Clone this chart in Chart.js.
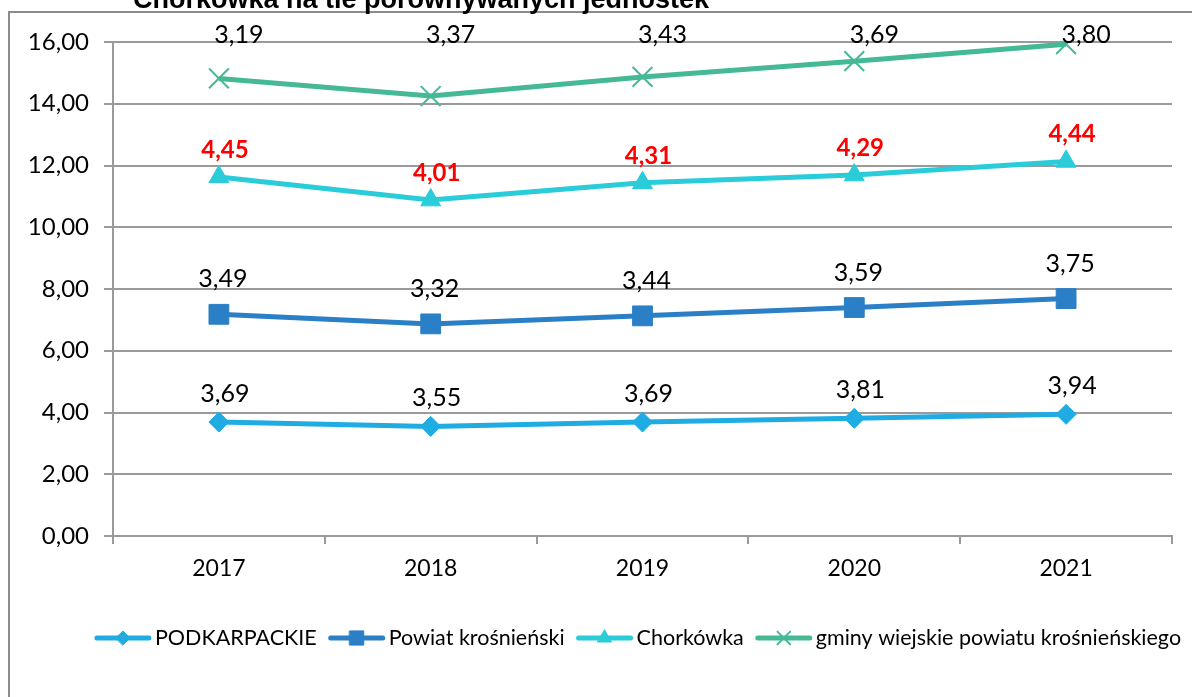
<!DOCTYPE html>
<html>
<head>
<meta charset="utf-8">
<script src="https://cdn.jsdelivr.net/npm/chart.js@4.4.0/dist/chart.umd.min.js"></script>
<style>
  html, body { margin: 0; padding: 0; background: #fff; }
  #wrap { width: 1192px; height: 697px; position: relative; }
</style>
</head>
<body>
<div id="wrap"><canvas id="lineChart"></canvas></div>
<script>
// values (each series is stacked on the previous one)
var years = ["2017", "2018", "2019", "2020", "2021"];
var podkarpackie = [3.69, 3.55, 3.69, 3.81, 3.94];
var powiat = [3.49, 3.32, 3.44, 3.59, 3.75];
var chorkowka = [4.45, 4.01, 4.31, 4.29, 4.44];
var gminy = [3.19, 3.37, 3.43, 3.69, 3.80];
var seriesNames = ["PODKARPACKIE", "Powiat krośnieński", "Chorkówka", "gminy wiejskie powiatu krośnieńskiego"];
var titleText = "Chorkówka na tle porównywanych jednostek";

var FONT = "Lato";
var GRID = "#9a9a9a";

function fmt(v) {
  return Number(v).toFixed(2).replace(".", ",");
}

// frame + cut title
var framePlugin = {
  id: "frame",
  beforeDraw: function (chart) {
    var ctx = chart.ctx;
    ctx.save();
    ctx.fillStyle = "#fff";
    ctx.fillRect(0, 0, chart.width, chart.height);
    ctx.strokeStyle = "#8c8c8c";
    ctx.lineWidth = 2;
    ctx.beginPath();
    ctx.moveTo(9, chart.height + 2);
    ctx.lineTo(9, 12);
    ctx.lineTo(chart.width + 2, 12);
    ctx.stroke();
    ctx.fillStyle = "#000";
    ctx.font = "bold 27px 'Liberation Sans'";
    ctx.textAlign = "left";
    ctx.textBaseline = "alphabetic";
    ctx.fillText(titleText, 133, 8);
    ctx.restore();
  }
};

// value labels (raw values, not stacked sums)
var labelPlugin = {
  id: "valueLabels",
  afterDatasetsDraw: function (chart) {
    var ctx = chart.ctx;
    ctx.save();
    ctx.textAlign = "center";
    ctx.textBaseline = "middle";
    chart.data.datasets.forEach(function (ds, i) {
      var meta = chart.getDatasetMeta(i);
      ctx.font = (ds.labelBold ? "bold 24px " : "25px ") + FONT;
      ctx.fillStyle = ds.labelColor;
      meta.data.forEach(function (pt, j) {
        var y = ds.labelTop ? chart.chartArea.top - 7 : pt.y + ds.labelDy;
        ctx.fillText(fmt(ds.data[j]), pt.x + ds.labelDx, y);
      });
    });
    ctx.restore();
  }
};

// legend: line sample with marker, then text
var legendPlugin = {
  id: "lineLegend",
  afterDraw: function (chart) {
    var ctx = chart.ctx;
    var sample = 56, gapText = 4, gapItem = 12, cy = 638;
    ctx.save();
    ctx.font = "21.5px " + FONT;
    var total = 0;
    chart.data.datasets.forEach(function (ds, i) {
      total += sample + gapText + ctx.measureText(ds.label).width;
      if (i < chart.data.datasets.length - 1) total += gapItem;
    });
    var x = 638 - total / 2;
    chart.data.datasets.forEach(function (ds) {
      ctx.strokeStyle = ds.borderColor;
      ctx.lineWidth = 5;
      ctx.lineCap = "round";
      ctx.beginPath();
      ctx.moveTo(x + 2, cy);
      ctx.lineTo(x + sample - 2, cy);
      ctx.stroke();
      ctx.fillStyle = ds.borderColor;
      ctx.strokeStyle = ds.borderColor;
      ctx.lineWidth = ds.pointStyle === "crossRot" ? 2 : 1;
      Chart.helpers.drawPoint(ctx, {
        pointStyle: ds.pointStyle,
        radius: ds.legendRadius,
        rotation: 0,
        borderWidth: ctx.lineWidth
      }, x + sample / 2, cy);
      x += sample + gapText;
      ctx.fillStyle = "#000";
      ctx.textAlign = "left";
      ctx.textBaseline = "middle";
      ctx.fillText(ds.label, x, cy);
      x += ctx.measureText(ds.label).width + gapItem;
    });
    ctx.restore();
  }
};

function series(label, data, color, style, radius, legendRadius, extra) {
  var ds = {
    label: label,
    data: data,
    borderColor: color,
    backgroundColor: color,
    borderWidth: 5,
    tension: 0,
    fill: false,
    pointStyle: style,
    pointRadius: radius,
    pointHoverRadius: radius,
    pointBorderWidth: style === "crossRot" ? 2 : 1,
    pointBackgroundColor: color,
    pointBorderColor: color,
    legendRadius: legendRadius,
    labelColor: "#000",
    labelBold: false,
    labelDx: 0,
    labelDy: -30,
    labelTop: false
  };
  for (var k in extra) ds[k] = extra[k];
  return ds;
}

var lineChartCanvas = document.getElementById("lineChart").getContext("2d");
var lineData = {
  labels: years,
  datasets: [
    series(seriesNames[0], podkarpackie, "#1eace3", "rectRot", 10, 7, { labelDy: -28, labelDx: 6 }),
    series(seriesNames[1], powiat, "#2a7fc6", "rect", 14, 10, { labelDy: -35, labelDx: 4 }),
    series(seriesNames[2], chorkowka, "#29ccd8", "triangle", 11.5, 8, {
      labelDy: -27, labelDx: 6, labelColor: "#ff0000", labelBold: true
    }),
    series(seriesNames[3], gminy, "#45b996", "crossRot", 14, 9, { labelTop: true, labelDx: 20 })
  ]
};

var lineOptions = {
  maintainAspectRatio: false,
  responsive: true,
  animation: false,
  layout: { padding: { top: 42, right: 20, left: 0, bottom: 0 } },
  plugins: {
    legend: { display: false },
    title: { display: false },
    tooltip: { enabled: false }
  },
  scales: {
    x: {
      offset: true,
      grid: { offset: true, drawOnChartArea: false, drawTicks: true, tickLength: 8, color: GRID, lineWidth: 2 },
      border: { color: GRID, width: 2 },
      ticks: { font: { family: FONT, size: 23 }, color: "#000", padding: 11 },
      afterFit: function (s) { s.height = 161; }
    },
    y: {
      stacked: true,
      min: 0,
      max: 16,
      ticks: {
        stepSize: 2,
        font: { family: FONT, size: 24 },
        color: "#000",
        padding: 15,
        callback: function (v) { return fmt(v); }
      },
      grid: { color: GRID, lineWidth: 2, tickLength: 9 },
      border: { color: GRID, width: 2 },
      afterFit: function (s) { s.width = 113; }
    }
  }
};

var lineChart = new Chart(lineChartCanvas, {
  type: "line",
  data: lineData,
  options: lineOptions,
  plugins: [framePlugin, labelPlugin, legendPlugin]
});
</script>
</body>
</html>
